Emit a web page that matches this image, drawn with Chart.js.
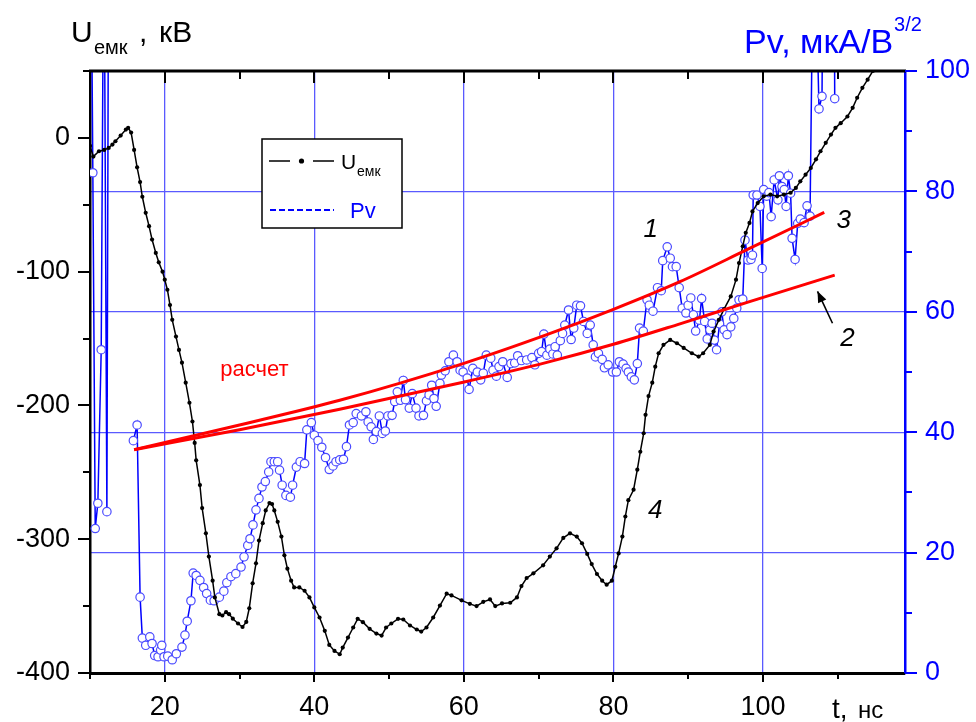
<!DOCTYPE html>
<html>
<head>
<meta charset="utf-8">
<script src="https://cdn.jsdelivr.net/npm/chart.js@4.4.0/dist/chart.umd.min.js"></script>
<style>
  html, body { margin: 0; padding: 0; background: #fff; }
  #wrap { width: 976px; height: 722px; }
</style>
</head>
<body>
<div id="wrap"><canvas id="c" width="976" height="722"></canvas></div>
<script>
const FONT = '"Liberation Sans", Arial, sans-serif';

// Capacitor voltage U_емк, kV (left axis) versus time, ns
const uTime = [
  10.0,10.45,11.2,11.9,12.5,13.0,13.4,14.1,14.8,15.1,
  15.5,15.9,16.3,16.7,17.0,17.45,17.9,18.3,18.8,19.2,
  19.7,20.0,20.35,20.7,21.0,21.5,21.9,22.3,22.8,23.3,
  23.7,24.0,24.2,24.7,25.0,25.5,25.9,26.4,26.7,27.3,
  27.7,28.2,28.6,29.1,29.8,30.4,30.9,31.3,31.75,32.2,
  32.6,33.1,33.5,34.0,34.35,34.65,35.1,35.6,36.0,36.4,
  36.9,37.3,38.0,38.7,39.35,40.0,40.7,41.4,42.0,42.7,
  43.4,43.8,44.5,45.2,45.8,46.5,47.4,48.3,49.0,49.6,
  50.3,51.2,51.9,52.8,53.7,54.3,55.0,55.9,56.8,57.7,
  58.35,59.7,60.8,61.7,62.6,63.5,64.2,65.1,66.2,67.1,
  67.7,68.4,69.3,70.6,71.5,72.4,73.3,74.2,75.1,75.8,
  76.5,77.1,77.8,78.5,79.1,79.8,80.25,80.7,81.2,81.6,
  82.0,82.7,83.2,83.6,84.05,84.3,84.7,85.2,85.6,86.05,
  86.7,87.6,88.5,89.4,90.5,91.4,92.0,92.9,93.4,94.1,
  94.8,95.7,96.4,96.8,97.3,97.7,98.2,98.6,99.3,100.1,
  101.0,101.9,102.8,103.7,104.4,105.0,105.7,106.4,107.1,107.7,
  108.4,109.1,109.7,110.4,111.3,112.0,112.6,113.3,114.0,114.7
];
const uValues = [
  -6,-14,-10,-9,-7.5,-5,-2.5,1.7,6.2,7.5,
  4,-9,-22,-33,-44,-56,-66,-76,-86,-93,
  -100,-106,-113.5,-125,-136,-148.5,-158.5,-168,-183,-198,
  -212,-228,-241,-259.5,-276.7,-295.6,-313,-331,-343.5,-356,
  -357,-354.5,-356,-359.4,-363,-365.6,-361.8,-351.6,-333,-318,
  -301,-288,-278.5,-273,-273.7,-278.5,-287,-298,-312,-322,
  -331,-336,-336,-338.5,-343.5,-351,-358.5,-368.5,-379,-383.5,
  -386,-381,-373.5,-366,-359.5,-362,-367,-370.5,-372,-366,
  -363,-359.5,-360,-364.5,-367.5,-369,-366,-358.5,-349.6,-340.7,
  -342,-345.7,-348.3,-350,-346.8,-345,-350,-348,-347.5,-343.5,
  -335,-329,-325.5,-319.5,-313,-306.8,-299,-295.6,-298,-303,
  -311,-318.6,-326,-331,-334,-331,-320.6,-310.6,-298,-283,
  -270.8,-263,-248,-234.6,-220.8,-207,-193,-183,-171,-161,
  -154.7,-151,-153.5,-157,-161,-163.5,-161,-154.7,-144.8,-136,
  -128,-118.5,-106,-93.6,-81,-71,-63.6,-55,-48.7,-43.7,
  -42.4,-43.7,-42.4,-41,-37.4,-32.5,-27.5,-22.5,-16,-10,
  -3.7,2.5,7.5,11,16,22.5,30,37.4,43.5,50
];

// Perveance Pv, мкА/В^3/2 (right axis); null marks a break in the record,
// values above 100 run off the top of the frame
const pvTime = [
  10.1,10.38,10.7,11.05,11.5,11.86,12.26,12.5,14,
  15.8,16.3,16.7,17.0,17.45,18.0,18.3,18.65,19.1,19.45,
  19.6,19.9,20.4,21.0,21.55,22.3,22.7,23.0,23.5,23.8,
  24.2,24.7,25.2,25.6,26.1,26.6,27.3,27.9,28.3,28.85,
  29.5,30.2,30.6,31.1,31.4,31.8,32.2,32.6,33.0,33.45,
  33.9,34.2,34.65,35.1,35.35,35.7,36.2,36.8,37.1,37.6,
  38.1,38.7,39.0,39.6,40.0,40.5,41.0,41.5,42.0,42.5,
  42.9,43.4,43.9,44.3,44.7,45.2,45.6,46.3,46.9,47.2,
  47.6,47.9,48.3,48.7,49.1,49.5,49.85,50.4,50.75,51.1,
  51.5,51.9,52.2,52.7,53.1,53.6,54.0,54.6,55.0,55.35,
  55.7,56.0,56.3,56.8,57.0,57.5,58.0,58.6,59.1,59.5,
  59.9,60.45,60.7,61.2,61.8,62.25,62.6,63.0,63.6,63.9,
  64.35,64.7,65.2,65.8,66.3,66.8,67.2,67.7,68.4,69.1,
  69.5,70.0,70.4,70.7,71.1,71.5,71.9,72.2,72.5,72.9,
  73.2,73.5,74.0,74.35,74.7,75.1,75.6,76.0,76.5,76.9,
  77.3,77.6,78.0,78.5,78.8,79.3,79.9,80.4,80.8,81.3,
  81.7,82.0,82.4,82.8,83.2,83.5,84.0,84.5,84.8,85.3,
  85.9,86.4,86.6,87.2,87.6,87.9,88.4,88.8,89.2,89.7,
  90.0,90.35,90.7,91.0,91.5,91.8,92.2,92.55,92.9,93.2,
  93.5,93.8,94.2,94.5,94.8,95.2,95.7,96.1,96.5,96.8,
  97.3,97.6,98.0,98.4,98.6,98.7,99.2,99.6,99.9,100.1,
  100.5,100.8,101.1,101.5,102.0,102.2,102.55,102.85,103.1,103.4,
  103.7,103.9,104.3,104.65,105.0,105.5,105.9,106.3,106.8,107.5,
  107.9,108.1,109.5,109.6
];
const pvValues = [
  130,83.1,24.0,28.2,53.7,130,26.8,130,null,
  38.6,41.2,12.6,5.8,4.6,6.0,4.9,2.9,2.7,3.8,
  4.6,2.7,2.8,2.2,3.2,4.3,6.3,8.6,12.0,16.6,
  16.2,15.4,14.2,13.2,12.1,12.0,12.6,13.6,15.0,16.0,
  16.5,17.6,19.3,21.2,22.3,24.6,27.1,29.0,30.9,31.8,
  33.4,35.1,35.1,35.1,33.7,31.2,29.5,29.2,31.2,34.2,
  35.1,34.8,40.4,41.6,39.5,38.6,37.5,35.8,33.8,34.4,
  35.1,35.4,35.5,37.6,41.2,41.6,43.1,42.7,43.4,41.7,
  40.9,38.8,40.1,42.7,39.8,40.2,42.7,42.8,45.1,46.7,
  45.3,48.6,45.4,44.0,46.4,44.0,42.7,42.8,45.2,46.2,
  47.8,45.6,44.3,48.1,49.5,50.2,51.7,52.8,51.7,50.3,
  50.0,49.0,47.1,50.6,50.0,48.7,49.8,52.8,52.3,50.3,
  49.3,50.9,51.7,49.1,51.4,51.5,52.7,51.9,52.0,52.4,
  51.2,53.1,53.4,56.3,52.8,53.8,53.0,54.2,52.8,55.2,
  56.4,57.8,60.3,55.4,57.3,61.1,61.0,58.4,56.4,57.8,
  54.5,52.5,53.1,52.1,50.7,51.2,50.0,50.0,51.7,51.3,
  50.6,50.0,49.2,48.7,51.4,57.3,56.8,62.0,61.1,60.1,
  64.0,63.5,68.5,70.8,68.9,67.5,67.5,64.0,60.6,59.8,
  61.1,62.3,59.5,56.8,58.6,62.2,58.4,55.5,57.0,58.1,
  55.3,53.7,58.0,60.0,57.0,56.2,57.5,58.9,60.6,62.0,
  62.1,71.9,68.6,68.7,69.4,79.4,79.4,77.5,67.2,80.3,
  79.2,79.8,75.8,81.9,78.6,82.6,80.8,80.3,77.5,82.6,
  79.7,72.2,68.7,74.7,75.4,74.8,77.6,75.9,130,93.7,
  95.8,130,130,95.4
];

// Calculated perveance curves 3 (upper) and 2 (lower)
const calc3Time = [15.9,30,43.4,59.9,71.1,80,88.9,98,108.2];
const calc3Pv   = [37.1,41.2,45.3,51.4,56.2,60.4,65.0,70.4,76.5];
const calc2Time = [15.9,30,43.4,59.9,71.1,80,88.9,98,109.6];
const calc2Pv   = [37.1,40.4,43.8,48.3,51.6,54.6,58.0,61.6,66.1];

// Axis tick labels
const timeTicks = [20,40,60,80,100];
const uTicks = [-400,-300,-200,-100,0];
const pvTicks = [0,20,40,60,80,100];

const zip = (xs, ys) => xs.map((x, i) => ({ x, y: ys[i] }));

const GRID = '#5a5aff';

// Axis frame: top line and the major/minor tick marks on all four sides
const frame = {
  id: 'frame',
  afterDraw(chart) {
    const { ctx, chartArea: a, scales } = chart;
    const sx = scales.x, syl = scales.y, syr = scales.y2;
    ctx.save();
    ctx.lineCap = 'butt';
    ctx.strokeStyle = '#000';
    ctx.lineWidth = 3;
    ctx.beginPath(); ctx.moveTo(a.left - 1, a.top); ctx.lineTo(a.right + 1, a.top); ctx.stroke();

    ctx.lineWidth = 2;
    for (let t = 10; t <= 110; t += 10) {
      const p = Math.round(sx.getPixelForValue(t));
      const major = t % 20 === 0;
      ctx.beginPath();
      ctx.moveTo(p, a.bottom); ctx.lineTo(p, a.bottom + (major ? 9 : 6));
      ctx.moveTo(p, a.top); ctx.lineTo(p, a.top + (major ? 12 : 8));
      ctx.stroke();
    }
    for (let v = -400; v <= 50; v += 50) {
      const p = Math.round(syl.getPixelForValue(v));
      const major = v % 100 === 0;
      ctx.beginPath(); ctx.moveTo(a.left, p); ctx.lineTo(a.left - (major ? 12 : 7), p); ctx.stroke();
    }
    ctx.strokeStyle = '#0000ff';
    for (let v = 0; v <= 100; v += 10) {
      const p = Math.round(syr.getPixelForValue(v));
      const major = v % 20 === 0;
      ctx.beginPath(); ctx.moveTo(a.right, p); ctx.lineTo(a.right + (major ? 12 : 7), p); ctx.stroke();
    }
    ctx.restore();
  }
};

// Axis titles, curve numbers, the "расчет" note, arrow and the legend box
const notes = {
  id: 'notes',
  afterDraw(chart) {
    const { ctx, scales } = chart;
    const sx = scales.x, sy = scales.y2;
    const px = (t) => sx.getPixelForValue(t);
    const py = (v) => sy.getPixelForValue(v);
    ctx.save();
    ctx.textBaseline = 'alphabetic';

    // left axis title
    ctx.fillStyle = '#000';
    ctx.font = '30px ' + FONT;
    ctx.fillText('U', 71, 42);
    ctx.font = '20px ' + FONT;
    ctx.fillText('емк', 94, 54);
    ctx.font = '30px ' + FONT;
    ctx.fillText(',', 139, 42);
    ctx.fillText('кВ', 159, 42);

    // right axis title
    ctx.fillStyle = '#0000ff';
    ctx.font = '34px ' + FONT;
    const pvTitle = 'Pv, мкА/В';
    ctx.fillText(pvTitle, 744, 53);
    const w = ctx.measureText(pvTitle).width;
    ctx.font = '20px ' + FONT;
    ctx.fillText('3/2', 744 + w + 1, 31);

    // time axis title
    ctx.fillStyle = '#000';
    ctx.font = '28px ' + FONT;
    ctx.fillText('t,', 832, 718);
    ctx.font = '24px ' + FONT;
    ctx.fillText('нс', 858, 718);

    // curve numbers
    ctx.font = 'italic 26px ' + FONT;
    ctx.textAlign = 'center';
    ctx.textBaseline = 'middle';
    ctx.fillText('1', px(85.0), py(73.6));
    ctx.fillText('3', px(110.8), py(75.2));
    ctx.fillText('2', px(111.3), py(55.6));
    ctx.fillText('4', px(85.6), py(26.9));

    ctx.fillStyle = '#ff0000';
    ctx.font = '22px ' + FONT;
    ctx.fillText('расчет', px(32.0), py(50.3));

    // arrow pointing to curve 2
    const x0 = px(109.3), y0 = py(58.1), x1 = px(107.3), y1 = py(63.4);
    ctx.strokeStyle = '#000';
    ctx.fillStyle = '#000';
    ctx.lineWidth = 1.6;
    ctx.beginPath(); ctx.moveTo(x0, y0); ctx.lineTo(x1, y1); ctx.stroke();
    const ang = Math.atan2(y1 - y0, x1 - x0);
    const L = 11, H = 4.5;
    ctx.beginPath();
    ctx.moveTo(x1, y1);
    ctx.lineTo(x1 - L * Math.cos(ang) + H * Math.sin(ang), y1 - L * Math.sin(ang) - H * Math.cos(ang));
    ctx.lineTo(x1 - L * Math.cos(ang) - H * Math.sin(ang), y1 - L * Math.sin(ang) + H * Math.cos(ang));
    ctx.closePath(); ctx.fill();

    // legend box
    const bx = 262, by = 139, bw = 140, bh = 89;
    ctx.fillStyle = '#fff';
    ctx.fillRect(bx, by, bw, bh);
    ctx.strokeStyle = '#000';
    ctx.lineWidth = 1.5;
    ctx.strokeRect(bx, by, bw, bh);

    ctx.lineWidth = 1.6;
    ctx.beginPath();
    ctx.moveTo(269, 161); ctx.lineTo(290, 161);
    ctx.moveTo(313, 161); ctx.lineTo(334, 161);
    ctx.stroke();
    ctx.fillStyle = '#000';
    ctx.beginPath(); ctx.arc(301.5, 161, 2.6, 0, Math.PI * 2); ctx.fill();

    ctx.textAlign = 'left';
    ctx.textBaseline = 'alphabetic';
    ctx.font = '21px ' + FONT;
    ctx.fillText('U', 341, 169);
    ctx.font = '14px ' + FONT;
    ctx.fillText('емк', 357, 176);

    ctx.strokeStyle = '#0000ff';
    ctx.lineWidth = 2.2;
    ctx.setLineDash([6, 3]);
    ctx.beginPath(); ctx.moveTo(270, 210); ctx.lineTo(334, 210); ctx.stroke();
    ctx.setLineDash([]);
    ctx.fillStyle = '#0000ff';
    ctx.font = '22px ' + FONT;
    ctx.fillText('Pv', 350, 218);

    ctx.restore();
  }
};

new Chart(document.getElementById('c'), {
  type: 'line',
  data: {
    datasets: [
      {
        label: '3', data: zip(calc3Time, calc3Pv), yAxisID: 'y2',
        borderColor: '#ff0000', borderWidth: 3, pointRadius: 0,
        cubicInterpolationMode: 'monotone', order: 0
      },
      {
        label: '2', data: zip(calc2Time, calc2Pv), yAxisID: 'y2',
        borderColor: '#ff0000', borderWidth: 3, pointRadius: 0,
        cubicInterpolationMode: 'monotone', order: 0
      },
      {
        label: 'Uемк', data: zip(uTime, uValues), yAxisID: 'y',
        borderColor: '#000', borderWidth: 1.5,
        pointRadius: 2.1, pointBackgroundColor: '#000', pointBorderWidth: 0,
        order: 1
      },
      {
        label: 'Pv', data: zip(pvTime, pvValues), yAxisID: 'y2',
        borderColor: '#0000ff', borderWidth: 1.5, spanGaps: false,
        pointRadius: 4.2, pointBackgroundColor: '#ffffff',
        pointBorderColor: '#4a4aff', pointBorderWidth: 1.2,
        order: 2
      }
    ]
  },
  options: {
    responsive: false,
    animation: false,
    devicePixelRatio: 1,
    layout: { padding: { top: 71, left: 0, right: 0, bottom: 0 } },
    plugins: { legend: { display: false }, tooltip: { enabled: false } },
    scales: {
      x: {
        type: 'linear', position: 'bottom', min: 10, max: 119,
        afterBuildTicks: (s) => { s.ticks = timeTicks.map(v => ({ value: v })); },
        afterFit: (s) => { s.height = 49; },
        ticks: { color: '#000', font: { family: FONT, size: 27 }, padding: 18,
                 maxRotation: 0, autoSkip: false, callback: (v) => String(v) },
        grid: { color: GRID, lineWidth: 1.3, drawTicks: false },
        border: { color: '#000', width: 3 }
      },
      y: {
        type: 'linear', position: 'left', min: -400, max: 50,
        afterBuildTicks: (s) => { s.ticks = uTicks.map(v => ({ value: v })); },
        afterFit: (s) => { s.width = 90; },
        ticks: { color: '#000', font: { family: FONT, size: 27 }, padding: 20,
                 autoSkip: false, callback: (v) => String(v) },
        grid: { drawOnChartArea: false, drawTicks: false },
        border: { color: '#000', width: 2.5 }
      },
      y2: {
        type: 'linear', position: 'right', min: 0, max: 100,
        afterBuildTicks: (s) => { s.ticks = pvTicks.map(v => ({ value: v })); },
        afterFit: (s) => { s.width = 71; },
        ticks: { color: '#0000ff', font: { family: FONT, size: 27 }, padding: 20,
                 autoSkip: false, callback: (v) => String(v) },
        grid: {
          drawTicks: false, lineWidth: 1.3,
          color: (c) => (c.tick && (c.tick.value === 0 || c.tick.value === 100)) ? 'rgba(0,0,0,0)' : GRID
        },
        border: { color: '#0000ff', width: 2.5 }
      }
    }
  },
  plugins: [frame, notes]
});
</script>
</body>
</html>
